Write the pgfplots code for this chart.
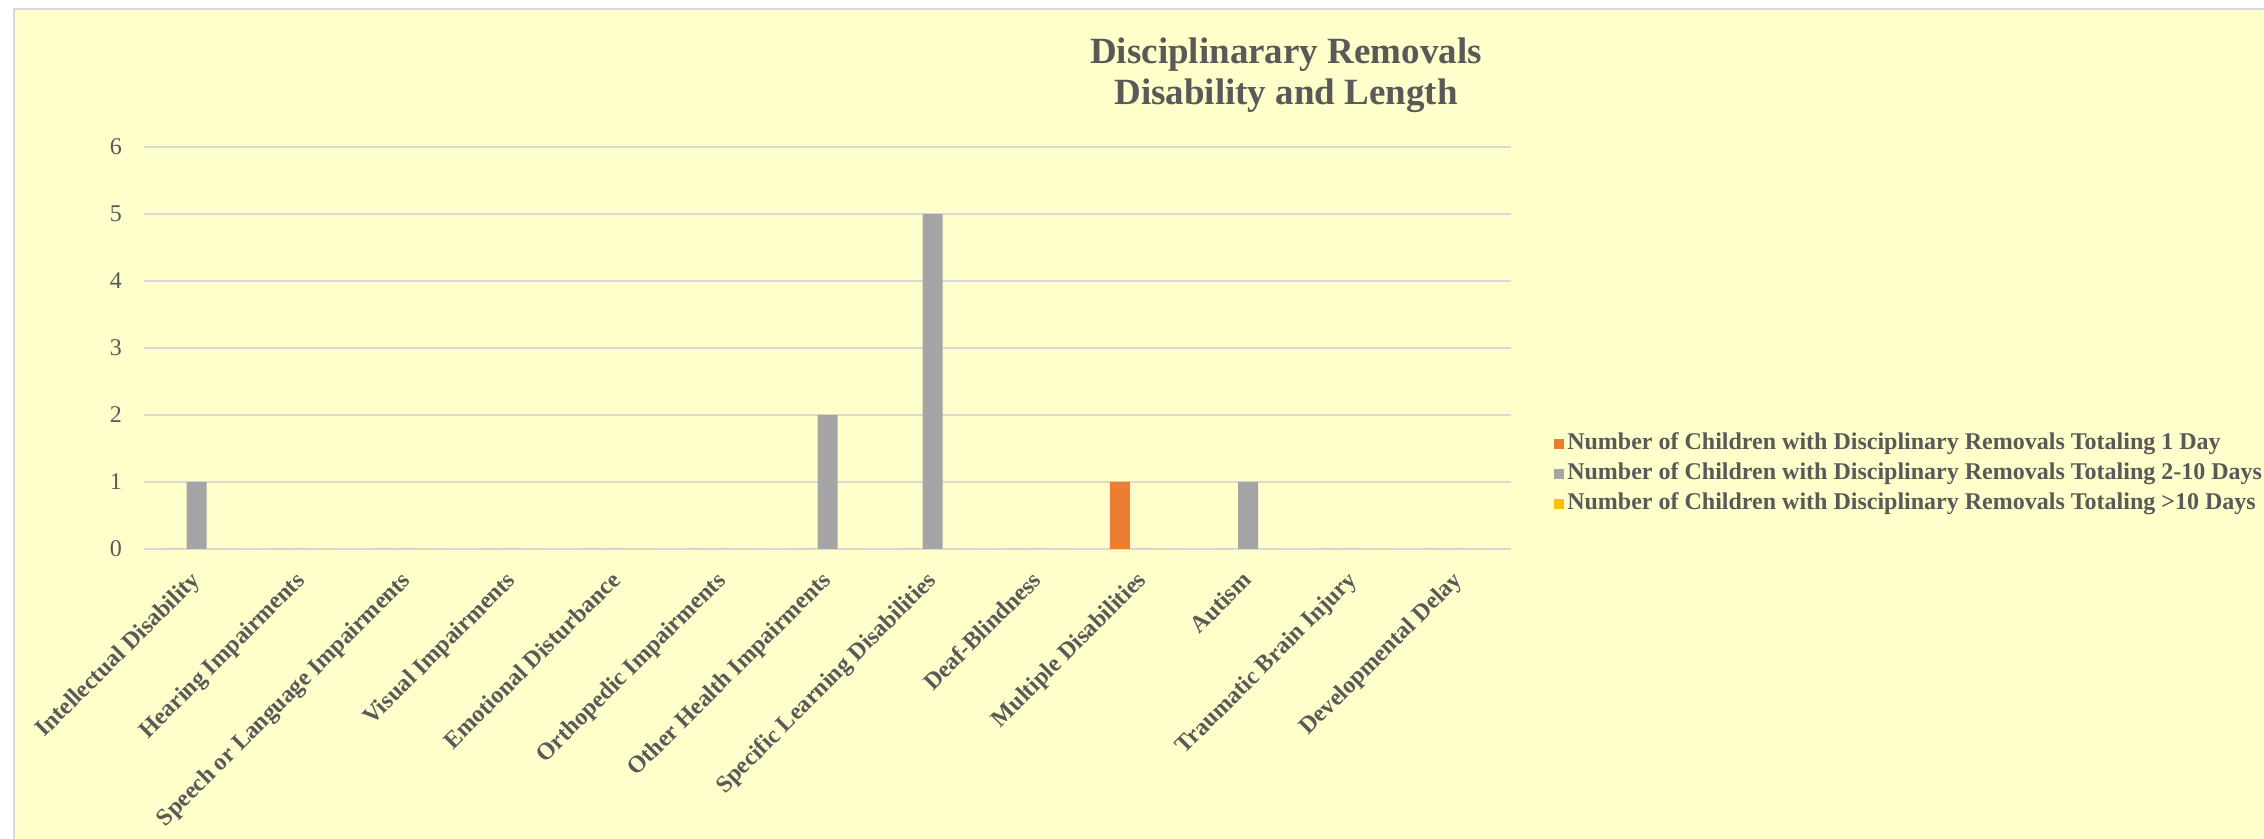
\documentclass[border=0pt]{standalone}
\usepackage{fontspec}
\setmainfont{Liberation Serif}
\usepackage{pgfplots}
\pgfplotsset{compat=1.18}
\definecolor{bg}{HTML}{FFFFCC}
\definecolor{txt}{HTML}{595959}
\definecolor{gridc}{HTML}{D9D9D9}
\definecolor{c1}{HTML}{ED7D31}
\definecolor{c2}{HTML}{A5A5A5}
\definecolor{c3}{HTML}{FFC000}
\begin{document}
\begin{tikzpicture}
\path[use as bounding box, fill=white] (0,0) rectangle (1132pt,419.5pt);
\fill[bg] (7pt,0) rectangle (1132pt,415pt);
\draw[gridc, line width=1pt] (7pt,0) -- (7pt,415pt) -- (1132pt,415pt);
\node[font=\fontsize{18.5}{20.5}\selectfont\bfseries, text=txt, align=center] at (643pt,382pt) {Disciplinarary Removals\\Disability and Length};
\begin{axis}[
  at={(72pt,145pt)}, anchor=south west,
  scale only axis, width=683.5pt, height=201pt,
  ybar=1.5pt, bar width=10pt,
  xmin=-0.5, xmax=12.5, ymin=0, ymax=6,
  ytick={0,1,2,3,4,5,6},
  xtick={0,...,12},
  xticklabels={Intellectual Disability, Hearing Impairments, Speech or Language Impairments, Visual Impairments, Emotional Disturbance, Orthopedic Impairments, Other Health Impairments, Specific Learning Disabilities, Deaf-Blindness, Multiple Disabilities, Autism, Traumatic Brain Injury, Developmental Delay},
  xticklabel style={rotate=45, anchor=north east, font=\fontsize{12}{14}\selectfont\bfseries, text=txt, inner sep=0pt, xshift=-6.8pt, yshift=-1.6pt},
  yticklabel style={font=\fontsize{12}{14}\selectfont, text=txt, xshift=-7.5pt},
  /pgf/number format/assume math mode=true,
  axis line style={draw=none},
  tick style={draw=none},
  ymajorgrids, major grid style={gridc, line width=1pt},
  legend cell align=left,
  legend style={at={(1.027,0.1865)}, anchor=west, draw=none, fill=none,
    font=\fontsize{12}{14}\selectfont\bfseries, text=txt,
    row sep=3.5pt,
    nodes={inner xsep=1.5pt, inner ysep=0pt, text height=8.5pt, text depth=3pt}},
]
\addplot[fill=c1, draw=none, legend image code/.code={\fill[c1] (0pt,-2.5pt) rectangle (5pt,2.5pt);}] coordinates {(0,0) (1,0) (2,0) (3,0) (4,0) (5,0) (6,0) (7,0) (8,0) (9,1) (10,0) (11,0) (12,0)};
\addplot[fill=c2, draw=none, legend image code/.code={\fill[c2] (0pt,-2.5pt) rectangle (5pt,2.5pt);}] coordinates {(0,1) (1,0) (2,0) (3,0) (4,0) (5,0) (6,2) (7,5) (8,0) (9,0) (10,1) (11,0) (12,0)};
\addplot[fill=c3, draw=none, legend image code/.code={\fill[c3] (0pt,-2.5pt) rectangle (5pt,2.5pt);}] coordinates {(0,0) (1,0) (2,0) (3,0) (4,0) (5,0) (6,0) (7,0) (8,0) (9,0) (10,0) (11,0) (12,0)};
\legend{Number of Children with Disciplinary Removals Totaling 1 Day, Number of Children with Disciplinary Removals Totaling 2-10 Days, Number of Children with Disciplinary Removals Totaling >10 Days}
\end{axis}
\end{tikzpicture}
\end{document}
